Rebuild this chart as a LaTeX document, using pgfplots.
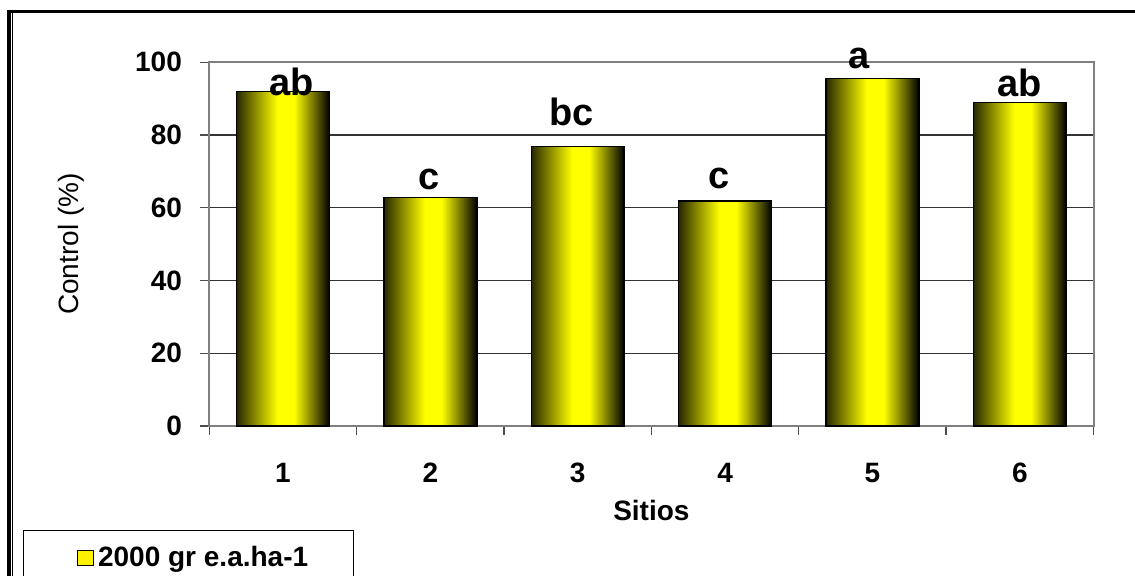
\documentclass[border=0pt]{standalone}
\usepackage{pgfplots}
\pgfplotsset{compat=1.18}
\usepackage{fontspec}
\setmainfont{Liberation Sans}
\definecolor{framegray}{RGB}{128,128,128}
\definecolor{darkolive}{RGB}{40,40,0}
\pgfdeclarehorizontalshading{barshade}{100bp}{color(0bp)=(darkolive); color(25bp)=(darkolive); color(47bp)=(yellow); color(56bp)=(yellow); color(75bp)=(black); color(100bp)=(black)}
\pgfplotsset{mybar/.style={draw=black, line width=0.75pt, shading=barshade, bar shift=0pt}}
\begin{document}
\begin{tikzpicture}
\begin{axis}[
  at={(0pt,0pt)}, anchor=south west,
  scale only axis, width=442.1pt, height=181.85pt,
  clip=false,
  ybar, bar width=0.63,
  xmin=0.5, xmax=6.5, ymin=0, ymax=100,
  xtick={1,...,6}, xticklabels={1,2,3,4,5,6},
  minor xtick={0.5,1.5,...,6.5},
  ytick={0,20,...,100},
  tick align=outside, tick pos=left,
  major tick length=4.5pt, minor tick length=4.5pt,
  major x tick style={draw=none},
  tick style={black!70, line width=0.7pt},
  ymajorgrids, major grid style={black!80, line width=0.6pt},
  axis line style={framegray, line width=1pt},
  /pgf/number format/assume math mode=true,
  ticklabel style={font=\bfseries\fontsize{14}{16}\selectfont, inner sep=0pt},
  yticklabel style={anchor=east, xshift=-9pt},
  xticklabel style={anchor=north, yshift=-14pt},
  ylabel={Control (\%)},
  xlabel={Sitios},
  every axis y label/.style={at={(axis description cs:-0.1564,0.5)}, rotate=90, anchor=center, font=\fontsize{14}{16}\selectfont},
  every axis x label/.style={at={(axis description cs:0.5,-0.231)}, anchor=center, font=\bfseries\fontsize{14}{16}\selectfont},
  legend style={at={(axis description cs:-0.2107,-0.2860)}, anchor=north west, draw=black, line width=0.5pt, font=\bfseries\fontsize{14}{16}\selectfont, inner xsep=20.5pt, inner ysep=6pt},
  legend image code/.code={\pgfpathmoveto{\pgfpoint{-6.5pt}{0pt}}\pgfusepath{discard}\pgfsetstrokecolor{black}\pgfsetfillcolor{yellow}\pgfsetlinewidth{0.6pt}\pgfpathrectangle{\pgfpoint{0pt}{-3.75pt}}{\pgfpoint{8pt}{7.5pt}}\pgfusepath{fill,stroke}},
]
\addplot[mybar] coordinates {(1,92.0)};
\addlegendentry{2000 gr e.a.ha-1}
\addplot[mybar, forget plot] coordinates {(2,62.8)};
\addplot[mybar, forget plot] coordinates {(3,76.8)};
\addplot[mybar, forget plot] coordinates {(4,61.9)};
\addplot[mybar, forget plot] coordinates {(5,95.6)};
\addplot[mybar, forget plot] coordinates {(6,89.0)};
\begin{scope}[every node/.style={anchor=base, font=\bfseries\fontsize{19}{20}\selectfont, inner sep=0pt}]
\node at (axis cs:1.061,91.0) {ab};
\node at (axis cs:1.99,64.9) {c};
\node at (axis cs:2.96,82.7) {bc};
\node at (axis cs:3.96,65.4) {c};
\node at (axis cs:4.907,98.4) {a};
\node at (axis cs:5.998,90.5) {ab};
\end{scope}
\end{axis}
\draw[line width=1.75pt] (-100.05pt,-80pt) -- (-100.05pt,207.35pt);
\draw[line width=1.35pt] (-100.9pt,207.35pt) -- (470pt,207.35pt);
\draw[line width=0.5pt] (-98.3pt,-80pt) -- (-98.3pt,206.7pt);
\pgfresetboundingbox
\useasboundingbox (-104.65pt,-75pt) rectangle (462.85pt,213pt);
\end{tikzpicture}
\end{document}
